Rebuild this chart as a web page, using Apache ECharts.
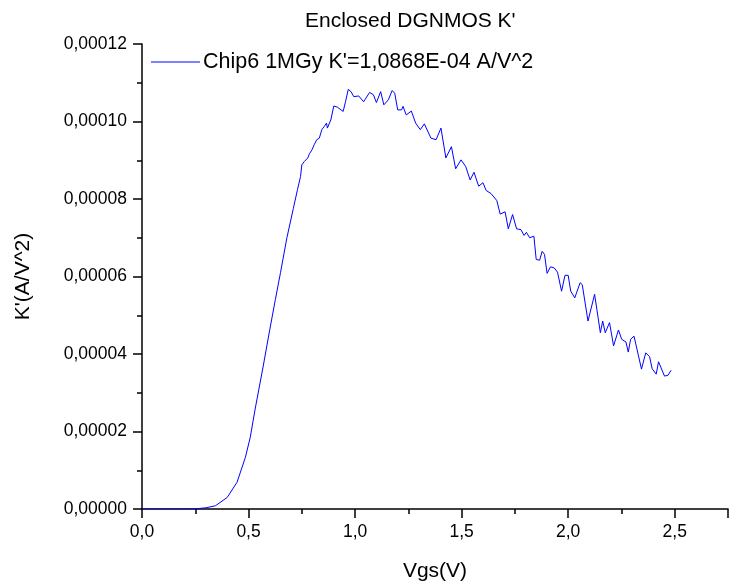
<!DOCTYPE html>
<html><head><meta charset="utf-8">
<script src="https://cdn.jsdelivr.net/npm/echarts@6/dist/echarts.min.js"></script>
<style>html,body{margin:0;padding:0;background:#fff}#c{width:731px;height:587px}</style>
</head><body><div id="c"></div>
<script>
const titleText = "Enclosed DGNMOS K'";
const seriesName = "Chip6 1MGy K'=1,0868E-04 A/V^2";
const xName = "Vgs(V)";
const yName = "K'(A/V^2)";
const vgs = [0.00,0.05,0.10,0.15,0.20,0.25,0.30,0.345,0.40,0.446,0.485,0.508,0.531,0.569,0.60,0.626,0.65,0.68,0.71,0.73,
0.744,0.75,0.762,0.778,0.786,0.798,0.808,0.82,0.832,0.844,0.855,0.866,0.87,0.886,0.90,0.917,0.944,0.955,0.968,0.981,
0.994,1.017,1.04,1.068,1.086,1.10,1.12,1.135,1.156,1.174,1.186,1.20,1.218,1.225,1.24,1.264,1.284,1.306,1.325,1.356,
1.38,1.403,1.426,1.452,1.472,1.497,1.519,1.54,1.558,1.58,1.60,1.615,1.638,1.665,1.681,1.704,1.719,1.739,1.758,1.778,
1.793,1.804,1.819,1.839,1.85,1.866,1.878,1.889,1.901,1.917,1.935,1.95,1.969,1.985,2.0,2.012,2.031,2.056,2.066,2.093,
2.124,2.151,2.162,2.174,2.194,2.213,2.236,2.251,2.271,2.282,2.293,2.309,2.344,2.364,2.382,2.394,2.413,2.424,2.452,2.468,2.483];
const kprime = [0,0,0,0,0,0.005e-5,0.03e-5,0.085e-5,0.30e-5,0.69e-5,1.33e-5,1.85e-5,2.58e-5,3.69e-5,4.64e-5,5.41e-5,6.1e-5,7.0e-5,7.75e-5,8.25e-5,
8.58e-5,8.88e-5,8.97e-5,9.06e-5,9.17e-5,9.27e-5,9.40e-5,9.53e-5,9.57e-5,9.79e-5,9.87e-5,9.96e-5,9.83e-5,10.04e-5,10.40e-5,10.37e-5,10.26e-5,10.51e-5,10.83e-5,10.77e-5,
10.64e-5,10.66e-5,10.51e-5,10.75e-5,10.69e-5,10.49e-5,10.77e-5,10.43e-5,10.56e-5,10.80e-5,10.73e-5,10.30e-5,10.30e-5,10.39e-5,10.17e-5,10.27e-5,9.96e-5,9.79e-5,9.94e-5,9.57e-5,
9.53e-5,9.83e-5,9.06e-5,9.35e-5,8.78e-5,9.01e-5,8.84e-5,8.49e-5,8.69e-5,8.33e-5,8.42e-5,8.22e-5,8.14e-5,7.96e-5,7.61e-5,7.67e-5,7.23e-5,7.60e-5,7.23e-5,7.21e-5,
7.06e-5,7.14e-5,7.00e-5,7.04e-5,6.44e-5,6.42e-5,6.65e-5,6.57e-5,6.08e-5,6.25e-5,6.22e-5,6.11e-5,5.62e-5,6.03e-5,6.03e-5,5.62e-5,5.45e-5,5.84e-5,5.79e-5,4.85e-5,
5.54e-5,4.55e-5,4.85e-5,4.55e-5,4.81e-5,4.21e-5,4.62e-5,4.38e-5,4.31e-5,4.05e-5,4.38e-5,4.46e-5,3.61e-5,4.03e-5,3.93e-5,3.62e-5,3.48e-5,3.80e-5,3.43e-5,3.45e-5,3.58e-5];

const FONT = "'Liberation Sans', Arial, Helvetica, sans-serif";
const data = vgs.map((x, i) => [x, kprime[i]]);
const chart = echarts.init(document.getElementById('c'), null, {renderer: 'canvas'});
chart.setOption({
  animation: false,
  backgroundColor: '#fff',
  title: {text: titleText, left: 300, top: 6, textStyle: {fontFamily: FONT, fontSize: 21, fontWeight: 'normal', color: '#000'}},
  legend: {
    left: 146, top: 46, itemWidth: 49, itemHeight: 1.2, itemGap: 5, icon: 'rect',
    data: [{name: seriesName}],
    textStyle: {fontFamily: FONT, fontSize: 21.5, color: '#000', padding: [0, 0, 0, -2]}
  },
  grid: {left: 142, right: -5, top: 44, bottom: 77, containLabel: false},
  xAxis: {
    type: 'value', min: 0, max: 2.75, interval: 0.5,
    name: xName, nameLocation: 'middle', nameGap: 52,
    nameTextStyle: {fontFamily: FONT, fontSize: 21, color: '#000'},
    axisLine: {show: true, onZero: false, lineStyle: {color: '#000', width: 1.5}},
    axisTick: {show: true, inside: false, length: 9, lineStyle: {color: '#000', width: 1.5}},
    minorTick: {show: true, splitNumber: 2, length: 5, lineStyle: {color: '#000', width: 1.5}},
    splitLine: {show: false},
    axisLabel: {margin: 14, fontFamily: FONT, fontSize: 17.5, color: '#000',
      formatter: v => (Math.abs(v / 0.5 - Math.round(v / 0.5)) < 1e-6 ? v.toFixed(1).replace('.', ',') : '')}
  },
  yAxis: {
    type: 'value', min: 0, max: 0.00012, interval: 0.00002,
    name: yName, nameLocation: 'middle', nameGap: 108, nameRotate: 90,
    nameTextStyle: {fontFamily: FONT, fontSize: 21, color: '#000'},
    axisLine: {show: true, lineStyle: {color: '#000', width: 1.5}},
    axisTick: {show: true, inside: false, length: 9, lineStyle: {color: '#000', width: 1.5}},
    minorTick: {show: true, splitNumber: 2, length: 5, lineStyle: {color: '#000', width: 1.5}},
    splitLine: {show: false},
    axisLabel: {margin: 15, fontFamily: FONT, fontSize: 17.5, color: '#000',
      formatter: v => v.toFixed(5).replace('.', ',')}
  },
  series: [{
    name: seriesName, type: 'line', data: data, showSymbol: false, symbol: 'none',
    lineStyle: {color: '#0000ff', width: 1}, itemStyle: {color: '#0000ff'}, clip: true
  }]
});
</script></body></html>
